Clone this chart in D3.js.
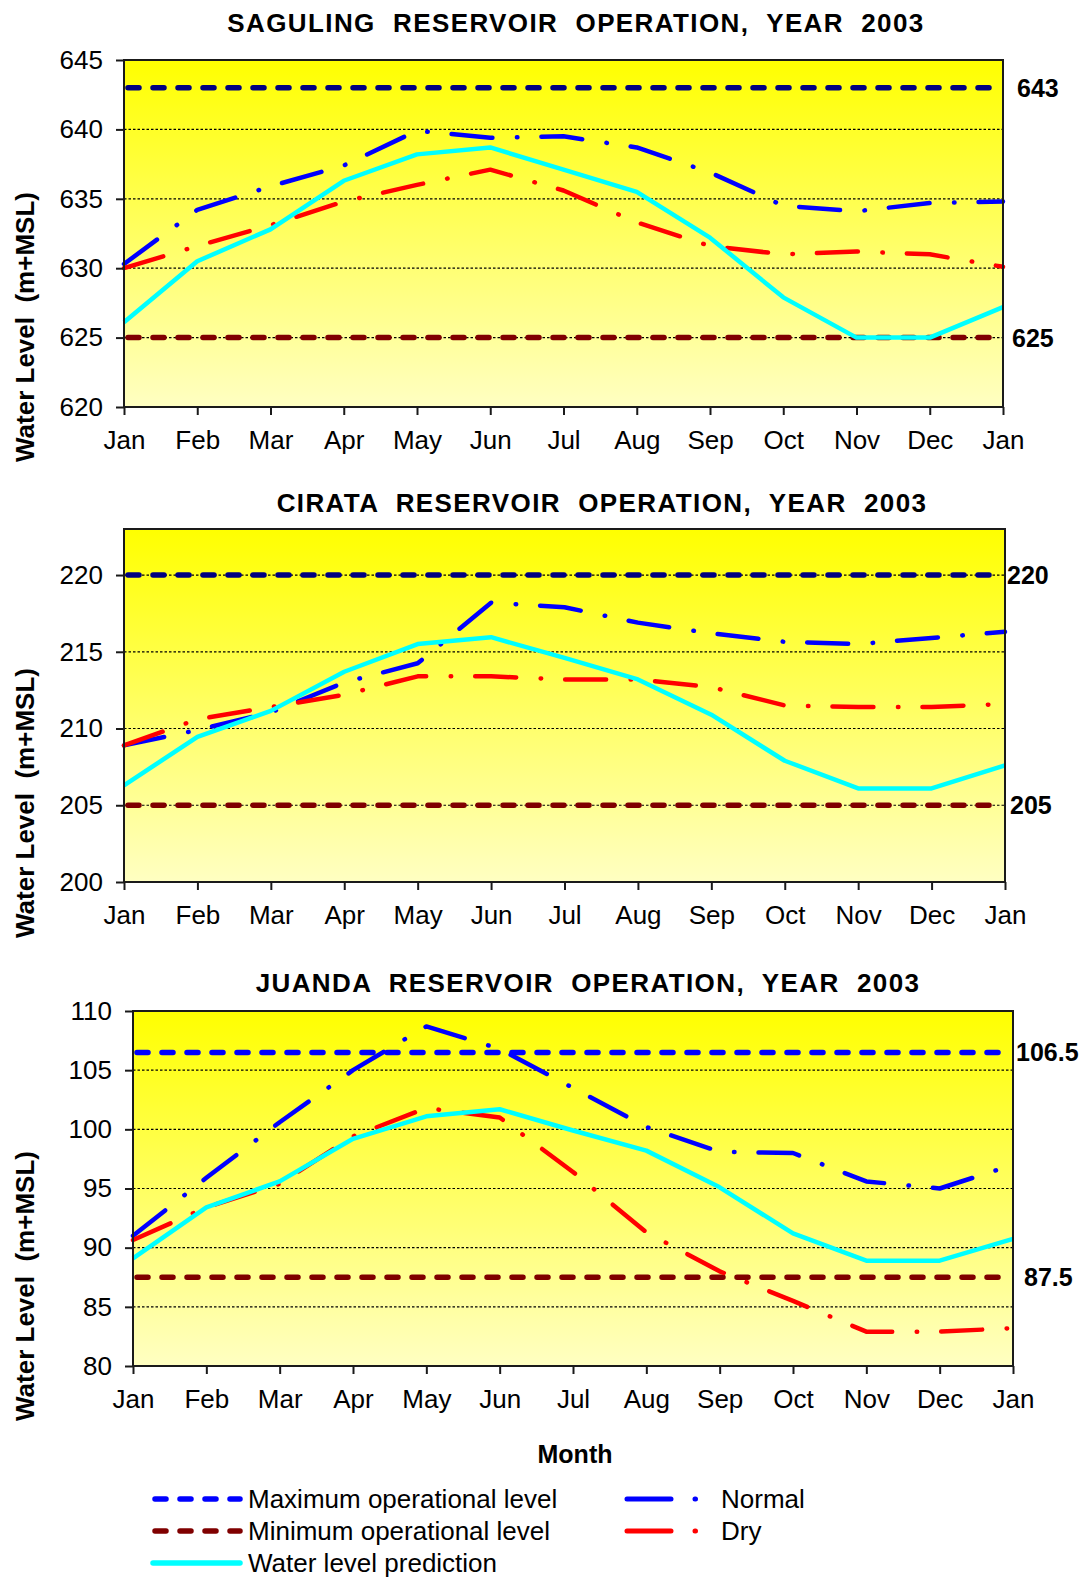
<!DOCTYPE html>
<html>
<head>
<meta charset="utf-8">
<script src="https://cdn.jsdelivr.net/npm/d3@7"></script>
<style>
  html, body { margin: 0; padding: 0; background: #ffffff; }
  svg { display: block; font-family: "Liberation Sans", Arial, Helvetica, sans-serif; }
  text { white-space: pre; }
</style>
</head>
<body>
<svg id="chart" width="1088" height="1580"></svg>
<script>
// ---- data ---------------------------------------------------------------
const months = ["Jan", "Feb", "Mar", "Apr", "May", "Jun", "Jul", "Aug", "Sep", "Oct", "Nov", "Dec", "Jan"];

// Saguling (m+MSL)
const sagulingTicks  = [620, 625, 630, 635, 640, 645];
const sagulingRange  = [620, 645];
const sagulingNormal = [630.3, 634.2, 635.9, 637.4, 639.9, 639.4, 639.5, 638.7, 636.9, 634.5, 634.1, 634.7, 634.8];
const sagulingDry    = [630.0, 631.6, 633.1, 634.8, 636.0, 637.1, 635.6, 633.3, 631.6, 631.0, 631.2, 631.0, 630.1];
const sagulingPred   = [626.1, 630.5, 632.8, 636.3, 638.2, 638.7, 637.1, 635.5, 632.2, 627.9, 625.0, 625.0, 627.2];

// Cirata (m+MSL)
const cirataTicks  = [200, 205, 210, 215, 220];
const cirataRange  = [200, 223];
const cirataNormal = [208.9, 209.9, 211.05, 213.0, 214.25, 218.2, 217.9, 216.9, 216.2, 215.65, 215.5, 215.9, 216.3];
const cirataDry    = [208.9, 210.6, 211.4, 212.2, 213.4, 213.4, 213.2, 213.2, 212.7, 211.5, 211.4, 211.4, 211.6];
const cirataPred   = [206.3, 209.45, 211.15, 213.7, 215.5, 215.95, 214.6, 213.2, 210.9, 207.9, 206.1, 206.1, 207.6];

// Juanda (m+MSL)
const juandaTicks  = [80, 85, 90, 95, 100, 105, 110];
const juandaRange  = [80, 110];
const juandaNormal = [91.0, 95.9, 100.6, 105.0, 108.7, 106.8, 103.5, 100.2, 98.1, 98.0, 95.6, 95.0, 97.0];
const juandaDry    = [90.65, 93.4, 95.4, 99.4, 101.8, 101.0, 96.4, 91.3, 88.0, 85.5, 82.9, 82.9, 83.2];
const juandaPred   = [89.1, 93.4, 95.6, 99.2, 101.1, 101.7, 99.9, 98.2, 95.1, 91.2, 88.9, 88.9, 90.75];

// operational limits, one entry per reservoir
const reservoirNames  = ["SAGULING", "CIRATA", "JUANDA"];
const operationalMax  = [643, 220, 106.5];
const operationalMin  = [625, 205, 87.5];

// ---- layout -------------------------------------------------------------
const COLORS = {
  maxDark: "#000080", maxBlue: "#0000ff", min: "#800000",
  normal: "#0000ff", dry: "#ff0000", pred: "#00ffff"
};
const DASH_LEVEL = "11 14";
const DASH_DOT = "41 24.5 0.5 24";

const panels = [
  { name: reservoirNames[0], ticks: sagulingTicks, range: sagulingRange,
    normal: sagulingNormal, dry: sagulingDry, pred: sagulingPred,
    max: operationalMax[0], min: operationalMin[0], maxColor: COLORS.maxDark,
    box: { x0: 124, x1: 1003, y0: 60, y1: 407 }, titleX: 576, titleY: 32,
    yTitleY: 327, maxLabelX: 1017, minLabelX: 1012 },
  { name: reservoirNames[1], ticks: cirataTicks, range: cirataRange,
    normal: cirataNormal, dry: cirataDry, pred: cirataPred,
    max: operationalMax[1], min: operationalMin[1], maxColor: COLORS.maxDark,
    box: { x0: 124, x1: 1005, y0: 529, y1: 882 }, titleX: 602, titleY: 512,
    yTitleY: 803, maxLabelX: 1007, minLabelX: 1010 },
  { name: reservoirNames[2], ticks: juandaTicks, range: juandaRange,
    normal: juandaNormal, dry: juandaDry, pred: juandaPred,
    max: operationalMax[2], min: operationalMin[2], maxColor: COLORS.maxBlue,
    box: { x0: 133, x1: 1013, y0: 1011, y1: 1366 }, titleX: 588, titleY: 992,
    yTitleY: 1286, maxLabelX: 1016, minLabelX: 1024 }
];

const svg = d3.select("#chart");
const defs = svg.append("defs");

const fmtLevel = d3.format("");

panels.forEach((p, k) => {
  const { x0, x1, y0, y1 } = p.box;
  const x = d3.scaleLinear().domain([0, months.length - 1]).range([x0, x1]);
  const y = d3.scaleLinear().domain(p.range).range([y1, y0]);

  // plot background: yellow fading to pale yellow
  const gid = "bg" + k;
  const grad = defs.append("linearGradient").attr("id", gid)
    .attr("x1", 0).attr("y1", 0).attr("x2", 0).attr("y2", 1);
  grad.append("stop").attr("offset", "0%").attr("stop-color", "#ffff00");
  grad.append("stop").attr("offset", "100%").attr("stop-color", "#ffffc2");

  const g = svg.append("g");

  g.append("rect")
    .attr("x", x0).attr("y", y0)
    .attr("width", x1 - x0).attr("height", y1 - y0)
    .attr("fill", `url(#${gid})`);

  // dotted horizontal gridlines
  g.append("g").selectAll("line")
    .data(p.ticks.filter(t => t > p.range[0] && t < p.range[1]))
    .join("line")
    .attr("x1", x0).attr("x2", x1)
    .attr("y1", d => y(d)).attr("y2", d => y(d))
    .attr("stroke", "#000").attr("stroke-width", 1.2)
    .attr("stroke-dasharray", "2.5 2");

  // operational limits
  const level = (v, color) => g.append("line")
    .attr("x1", x(0) + 4).attr("x2", x(months.length - 1) - 4)
    .attr("y1", y(v)).attr("y2", y(v))
    .attr("stroke", color).attr("stroke-width", 5.5)
    .attr("stroke-linecap", "round")
    .attr("stroke-dasharray", DASH_LEVEL);
  level(p.max, p.maxColor);

  const line = d3.line().x((d, i) => x(i)).y(d => y(d));

  g.append("path").datum(p.normal)
    .attr("d", line).attr("fill", "none")
    .attr("stroke", COLORS.normal).attr("stroke-width", 4.5)
    .attr("stroke-linecap", "round").attr("stroke-linejoin", "round")
    .attr("stroke-dasharray", DASH_DOT);

  level(p.min, COLORS.min);

  g.append("path").datum(p.dry)
    .attr("d", line).attr("fill", "none")
    .attr("stroke", COLORS.dry).attr("stroke-width", 4.5)
    .attr("stroke-linecap", "round").attr("stroke-linejoin", "round")
    .attr("stroke-dasharray", DASH_DOT);

  g.append("path").datum(p.pred)
    .attr("d", line).attr("fill", "none")
    .attr("stroke", COLORS.pred).attr("stroke-width", 4.5)
    .attr("stroke-linejoin", "round");

  // plot frame
  g.append("rect")
    .attr("x", x0).attr("y", y0)
    .attr("width", x1 - x0).attr("height", y1 - y0)
    .attr("fill", "none").attr("stroke", "#1a1a1a").attr("stroke-width", 2);

  // axes
  const yAxis = g.append("g").attr("transform", `translate(${x0},0)`)
    .call(d3.axisLeft(y).tickValues(p.ticks).tickSize(8).tickPadding(13).tickFormat(fmtLevel));
  const xAxis = g.append("g").attr("transform", `translate(0,${y1})`)
    .call(d3.axisBottom(x).tickValues(d3.range(months.length)).tickSize(8).tickPadding(16)
      .tickFormat(i => months[i]));
  [yAxis, xAxis].forEach(a => {
    a.select(".domain").remove();
    a.selectAll(".tick line").attr("stroke", "#1a1a1a").attr("stroke-width", 2);
    a.selectAll(".tick text").attr("fill", "#000").attr("font-size", 26)
      .attr("font-family", "'Liberation Sans', Arial, sans-serif");
  });

  // limit labels on the right
  [[p.max, p.maxLabelX], [p.min, p.minLabelX]].forEach(([v, lx]) => {
    g.append("text")
      .attr("x", lx).attr("y", y(v)).attr("dy", "0.36em")
      .attr("font-size", 25).attr("font-weight", "bold").attr("fill", "#000")
      .text(fmtLevel(v));
  });

  // chart title
  g.append("text")
    .attr("x", p.titleX).attr("y", p.titleY)
    .attr("text-anchor", "middle")
    .attr("font-size", 26).attr("font-weight", "bold")
    .attr("letter-spacing", 1.4).attr("fill", "#000")
    .text(`${p.name}  RESERVOIR  OPERATION,  YEAR  2003`);

  // vertical axis title
  g.append("text")
    .attr("transform", `translate(34,${p.yTitleY}) rotate(-90)`)
    .attr("text-anchor", "middle")
    .attr("font-size", 26).attr("font-weight", "bold").attr("fill", "#000")
    .text("Water Level  (m+MSL)");
});

// shared horizontal axis title
svg.append("text")
  .attr("x", 575).attr("y", 1463)
  .attr("text-anchor", "middle")
  .attr("font-size", 25).attr("font-weight", "bold").attr("fill", "#000")
  .text("Month");

// ---- legend -------------------------------------------------------------
const legend = svg.append("g").attr("font-size", 26).attr("fill", "#000");

const leftItems = [
  { label: "Maximum operational level", color: COLORS.maxBlue, dash: DASH_LEVEL, y: 1499 },
  { label: "Minimum operational level", color: COLORS.min, dash: DASH_LEVEL, y: 1531 },
  { label: "Water level prediction", color: COLORS.pred, dash: null, y: 1563 }
];
leftItems.forEach(it => {
  legend.append("line")
    .attr("x1", it.dash ? 155 : 153).attr("x2", 240)
    .attr("y1", it.y).attr("y2", it.y)
    .attr("stroke", it.color).attr("stroke-width", 5.5)
    .attr("stroke-linecap", "round")
    .attr("stroke-dasharray", it.dash);
  legend.append("text").attr("x", 248).attr("y", it.y + 9).text(it.label);
});

const rightItems = [
  { label: "Normal", color: COLORS.normal, y: 1499 },
  { label: "Dry", color: COLORS.dry, y: 1531 }
];
rightItems.forEach(it => {
  legend.append("line")
    .attr("x1", 627).attr("x2", 697)
    .attr("y1", it.y).attr("y2", it.y)
    .attr("stroke", it.color).attr("stroke-width", 5)
    .attr("stroke-linecap", "round")
    .attr("stroke-dasharray", "44 24 0.5 200");
  legend.append("text").attr("x", 721).attr("y", it.y + 9).text(it.label);
});
</script>
</body>
</html>
